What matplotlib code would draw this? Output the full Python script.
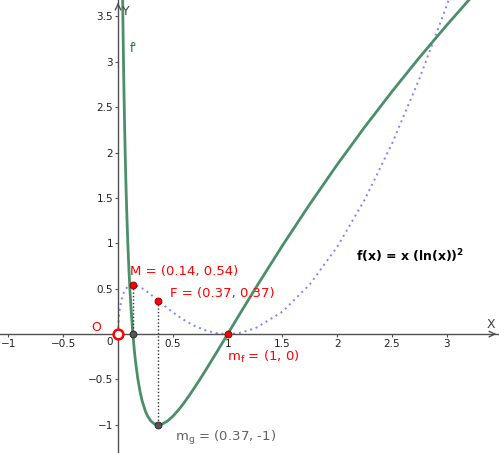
import matplotlib
matplotlib.use("Agg")
import matplotlib.pyplot as plt

# sample points
x_f = [0.0, 0.0002, 0.001, 0.002, 0.005, 0.01, 0.015, 0.02, 0.03, 0.04, 0.045, 0.05,
       0.055, 0.06, 0.065, 0.07, 0.075, 0.08, 0.09, 0.10, 0.11, 0.12, 0.135, 0.15, 0.16,
       0.18, 0.20, 0.22, 0.25, 0.27, 0.30, 0.33, 0.368, 0.40, 0.45, 0.50, 0.55, 0.60,
       0.70, 0.80, 0.90, 1.0, 1.1, 1.25, 1.5, 1.75, 2.0, 2.25, 2.5, 2.75, 3.0, 3.25]
y_f = [0.0, 0.0145, 0.0477, 0.0772, 0.1404, 0.2121, 0.2646, 0.3061, 0.3689, 0.4145,
       0.4328, 0.4487, 0.4627, 0.4749, 0.4856, 0.4950, 0.5032, 0.5103, 0.5218, 0.5302,
       0.5359, 0.5395, 0.5414, 0.5399, 0.5373, 0.5293, 0.5181, 0.5044, 0.4805, 0.4629,
       0.4349, 0.4056, 0.368, 0.3358, 0.2869, 0.2402, 0.1966, 0.1566, 0.0891, 0.0398,
       0.0100, 0.0, 0.0100, 0.0622, 0.2466, 0.5481, 0.9609, 1.4796, 2.099, 2.814, 3.621,
       4.515]

x_g = [0.035, 0.038, 0.04, 0.045, 0.05, 0.055, 0.06, 0.065, 0.07, 0.075, 0.08, 0.085,
       0.09, 0.095, 0.10, 0.11, 0.12, 0.135, 0.15, 0.16, 0.18, 0.20, 0.22, 0.25, 0.27,
       0.30, 0.33, 0.35, 0.368, 0.40, 0.45, 0.50, 0.55, 0.60, 0.65, 0.70, 0.75, 0.80,
       0.90, 1.0, 1.1, 1.25, 1.5, 1.75, 2.0, 2.25, 2.5, 2.75, 3.0, 3.25, 3.5]
y_g = [4.534, 4.154, 3.923, 3.415, 2.983, 2.612, 2.288, 2.005, 1.753, 1.529, 1.328,
       1.147, 0.982, 0.833, 0.697, 0.458, 0.255, 0.005, -0.195, -0.307, -0.489, -0.629,
       -0.736, -0.851, -0.904, -0.958, -0.988, -0.9975, -1.0, -0.993, -0.959, -0.906,
       -0.838, -0.761, -0.676, -0.586, -0.493, -0.397, -0.200, 0.0, 0.200, 0.496, 0.975,
       1.432, 1.867, 2.280, 2.672, 3.047, 3.404, 3.747, 4.075]

# special points
M = (0.135, 0.541)
F = (0.368, 0.368)
m_f = (1.0, 0.0)
m_g = (0.368, -1.0)
foot_M = (0.135, 0.0)

xticks = [-1, -0.5, 0.5, 1, 1.5, 2, 2.5, 3]
yticks = [-1, -0.5, 0.5, 1, 1.5, 2, 2.5, 3, 3.5]

green = "#4a8f68"
red = "#ff0000"
grey = "#606060"

fig = plt.figure(figsize=(4.99, 4.53), dpi=100)
ax = fig.add_axes([0, 0, 1, 1])
ax.set_xlim(-1.077, 3.476)
ax.set_ylim(-1.31, 3.68)

for s in ["top", "right"]:
    ax.spines[s].set_visible(False)
for s in ["left", "bottom"]:
    ax.spines[s].set_position(("data", 0))
    ax.spines[s].set_color("#505050")
    ax.spines[s].set_linewidth(1.0)

ax.set_xticks(xticks)
ax.set_yticks(yticks)
ax.set_xticklabels([("\u2212" + str(abs(t)) if t < 0 else str(t)) for t in xticks])
ax.set_yticklabels([("\u2212" + str(abs(t)) if t < 0 else str(t)) for t in yticks])
ax.tick_params(axis="both", direction="out", length=2, width=0.8, color="#505050",
               labelsize=7.5, labelcolor="#202020", pad=1.5)
ax.text(-0.05, -0.03, "0", fontsize=7.5, color="#202020", ha="right", va="top")

# axis arrows and names
ax.annotate("", xy=(3.476, 0), xytext=(3.40, 0),
            arrowprops=dict(arrowstyle="->", color="#505050", lw=1.0))
ax.annotate("", xy=(0, 3.68), xytext=(0, 3.60),
            arrowprops=dict(arrowstyle="->", color="#505050", lw=1.0))
ax.text(3.40, 0.03, "X", fontsize=9, color="#404040", ha="center", va="bottom")
ax.text(0.04, 3.62, "Y", fontsize=9, color="#404040", ha="left", va="top")

# curves
ax.plot(x_f, y_f, color="#8080ff", lw=1.4, linestyle=(0, (1, 2)))
ax.plot(x_g, y_g, color=green, lw=2.0, solid_capstyle="round", solid_joinstyle="round")

# dotted helper lines
ax.plot([M[0], foot_M[0]], [M[1], foot_M[1]], color="#303030", lw=1.0, linestyle=(0, (1, 1.5)))
ax.plot([F[0], m_g[0]], [F[1], m_g[1]], color="#303030", lw=1.0, linestyle=(0, (1, 1.5)))

# points
for p in [M, F, m_f]:
    ax.plot(*p, "o", ms=5, mfc=red, mec="#800000", mew=0.6, zorder=5)
for p in [foot_M, m_g]:
    ax.plot(*p, "o", ms=5, mfc="#555555", mec="#222222", mew=0.6, zorder=5)
ax.plot(0, 0, "o", ms=7, mfc="white", mec=red, mew=1.8, zorder=5)

# labels
ax.text(-0.155, 0.077, "O", fontsize=9, color=red, ha="right", va="center")
ax.text(0.11, 0.62, "M = (0.14, 0.54)", fontsize=9.5, color=red, ha="left", va="bottom")
ax.text(0.47, 0.38, "F = (0.37, 0.37)", fontsize=9.5, color=red, ha="left", va="bottom")
ax.text(0.99, -0.16, "m$_\\mathregular{f}$ = (1, 0)", fontsize=9.5, color=red, ha="left", va="top")
ax.text(0.52, -1.05, "m$_\\mathregular{g}$ = (0.37, -1)", fontsize=9.5, color=grey, ha="left", va="top")
ax.text(0.11, 3.15, "f'", fontsize=8.5, color="#1e6e40", ha="left", va="center")
ax.text(2.17, 0.86, "f(x) = x (ln(x))$^\\mathregular{2}$", fontsize=9, color="black",
        fontweight="bold", ha="left", va="center")

fig.savefig("out.png", dpi=100)
